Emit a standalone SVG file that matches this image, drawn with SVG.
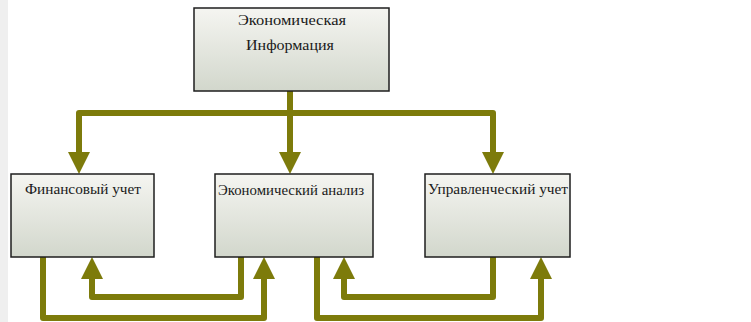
<svg xmlns="http://www.w3.org/2000/svg" width="751" height="322" viewBox="0 0 751 322">
  <defs>
    <linearGradient id="boxg" x1="0" y1="0" x2="0" y2="1">
      <stop offset="0" stop-color="#f5f5f1"/>
      <stop offset="1" stop-color="#d2d7cc"/>
    </linearGradient>
    <marker id="ah" viewBox="0 0 22 22" markerWidth="22" markerHeight="22" refX="0" refY="11" orient="auto" markerUnits="userSpaceOnUse">
      <path d="M0,0 L22,11 L0,22 z" fill="#7d7b0b"/>
    </marker>
    <style>
      .box { fill: url(#boxg); stroke: #1e1e1e; stroke-width: 1.5; }
      .lbl { font-family: "Liberation Serif", "Times New Roman", serif; font-size: 15px; fill: #1a1a1a; }
      .con { fill: none; stroke: #7d7b0b; stroke-width: 6; stroke-linejoin: round; marker-end: url(#ah); }
    </style>
  </defs>
  <rect x="0" y="0" width="751" height="322" fill="#ffffff"/>
  <rect x="0" y="0" width="8" height="322" fill="#efefef"/>

  <g id="connectors">
    <path class="con" d="M290,113 H79 V152"/>
    <path class="con" d="M290,113 H493 V152"/>
    <path class="con" d="M290,91 V152"/>
    <path class="con" d="M43,257 V318 H264 V279"/>
    <path class="con" d="M241,257 V297 H92 V279"/>
    <path class="con" d="M317,257 V318 H541 V279"/>
    <path class="con" d="M493,257 V297 H344 V279"/>
  </g>

  <g id="node-info">
    <rect class="box" x="194" y="8" width="195" height="83"/>
    <text class="lbl" x="292" y="25" text-anchor="middle" textLength="108" lengthAdjust="spacingAndGlyphs">Экономическая</text>
    <text class="lbl" x="290" y="50" text-anchor="middle" textLength="88" lengthAdjust="spacingAndGlyphs">Информация</text>
  </g>
  <g id="node-fin">
    <rect class="box" x="11" y="174" width="143" height="83"/>
    <text class="lbl" x="83" y="194" text-anchor="middle" textLength="116" lengthAdjust="spacingAndGlyphs">Финансовый учет</text>
  </g>
  <g id="node-econ">
    <rect class="box" x="215" y="174" width="158" height="83"/>
    <text class="lbl" x="218" y="195" textLength="146" lengthAdjust="spacingAndGlyphs">Экономический анализ</text>
  </g>
  <g id="node-mgmt">
    <rect class="box" x="425" y="174" width="145" height="83"/>
    <text class="lbl" x="428" y="194" textLength="140" lengthAdjust="spacingAndGlyphs">Управленческий учет</text>
  </g>
</svg>
